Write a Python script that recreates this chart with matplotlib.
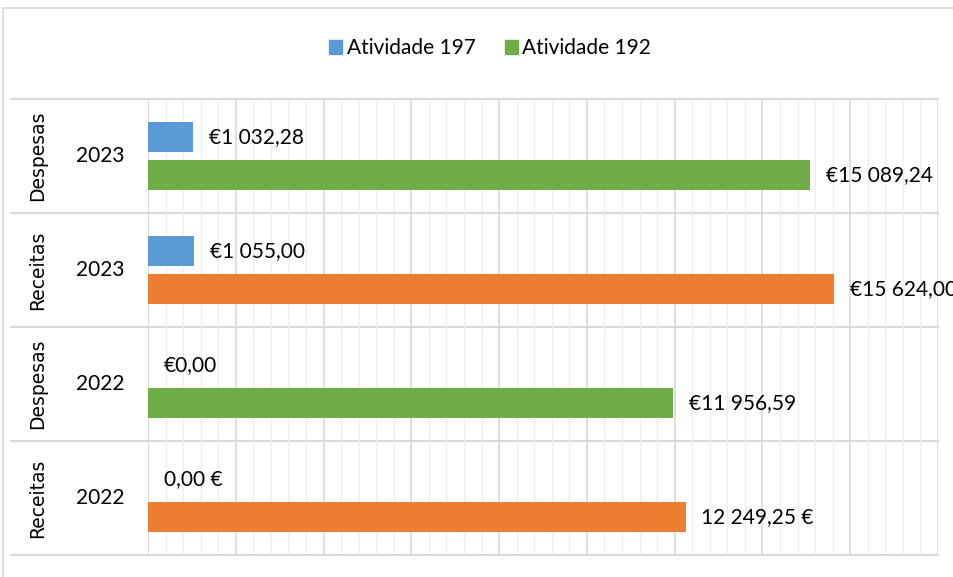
import matplotlib.pyplot as plt
from matplotlib.patches import Rectangle
from matplotlib.transforms import blended_transform_factory
from matplotlib.ticker import MultipleLocator

# categories from bottom to top
years = ["2022", "2022", "2023", "2023"]
groups = ["Receitas", "Despesas", "Receitas", "Despesas"]

ativ_197 = [0.00, 0.00, 1055.00, 1032.28]
ativ_192 = [12249.25, 11956.59, 15624.00, 15089.24]

labels_197 = ["0,00 €", "€0,00", "€1 055,00", "€1 032,28"]
labels_192 = ["12 249,25 €", "€11 956,59", "€15 624,00", "€15 089,24"]

blue = "#5B9BD5"
green = "#70AD47"
orange = "#ED7D31"
colors_192 = [orange, green, orange, green]

plt.rcParams['font.family'] = ['Lato', 'DejaVu Sans']

fig = plt.figure(figsize=(9.54, 5.77), dpi=100)
ax = fig.add_axes([148 / 954, 22 / 577, 790 / 954, 456 / 577])

pos = list(range(len(years)))
off = 0.169
h = 0.26
ax.barh([p + off for p in pos], ativ_197, height=h, color=blue, zorder=3)
ax.barh([p - off for p in pos], ativ_192, height=h, color=colors_192, zorder=3)

fs = 15
pad = 360
for p, v, t in zip(pos, ativ_197, labels_197):
    ax.text(v + pad, p + off, t, va="center", ha="left", fontsize=fs, color="#000000")
for p, v, t in zip(pos, ativ_192, labels_192):
    # the longest label runs past the right edge, as in the original
    ax.text(v + pad, p - off, t, va="center", ha="left", fontsize=fs, color="#000000",
            clip_on=False)

ax.set_xlim(0, 18000)
ax.set_ylim(-0.5, 3.5)
ax.xaxis.set_major_locator(MultipleLocator(2000))
ax.xaxis.set_minor_locator(MultipleLocator(400))
ax.grid(axis="x", which="major", color="#D9D9D9", lw=1.2, zorder=0)
ax.grid(axis="x", which="minor", color="#EDEDED", lw=1.0, zorder=0)
ax.tick_params(axis="both", which="both", length=0, labelbottom=False, labelleft=False)
for s in ax.spines.values():
    s.set_visible(False)
ax.axvline(0, color="#D9D9D9", lw=1.2, zorder=2)

# category separators extending into label area
tr = blended_transform_factory(fig.transFigure, ax.transData)
for y in [-0.5, 0.5, 1.5, 2.5, 3.5]:
    ax.plot([11 / 954, 938 / 954], [y, y], transform=tr, color="#D9D9D9", lw=1.5,
            clip_on=False, zorder=1)

# two-level category labels
for p, yr, g in zip(pos, years, groups):
    ax.text(100 / 954, p, yr, transform=tr, ha="center", va="center", fontsize=fs)
    ax.text(38 / 954, p, g, transform=tr, ha="center", va="center", fontsize=13.5,
            rotation=90, family="DejaVu Sans")

# legend
handles = [Rectangle((0, 0), 1, 1, color=blue), Rectangle((0, 0), 1, 1, color=green)]
fig.legend(handles, ["Atividade 197", "Atividade 192"], loc="center",
           bbox_to_anchor=(490 / 954, 1 - 48 / 577), ncol=2, frameon=False,
           fontsize=fs, handlelength=0.65, handleheight=0.65, handletextpad=0.2,
           columnspacing=1.4)

# chart border
fig.patches.append(Rectangle((3 / 954, -0.1), 1.1, 1 - 8 / 577 + 0.1,
                             transform=fig.transFigure, fill=False,
                             edgecolor="#D9D9D9", lw=1.2))

fig.savefig("out.png", dpi=100)
